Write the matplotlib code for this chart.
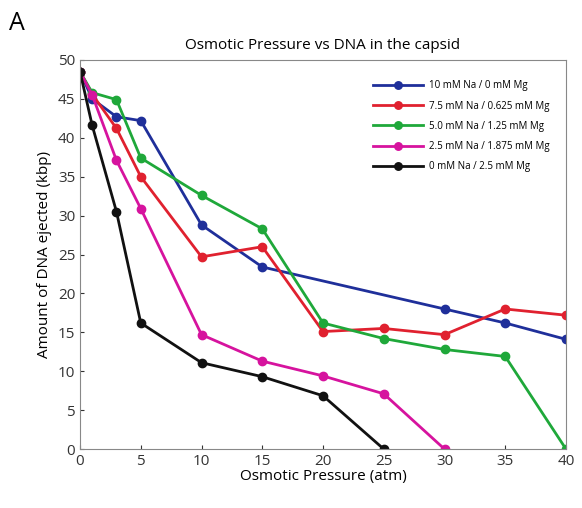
import matplotlib.pyplot as plt

plt.rcParams['font.family'] = ['Open Sans', 'DejaVu Sans']

# osmotic pressure (atm) and ejected DNA (kbp) for each buffer
x_blue = [0, 1, 3, 5, 10, 15, 30, 35, 40]
y_blue = [48.5, 45.0, 42.7, 42.2, 28.8, 23.4, 18.0, 16.2, 14.1]

x_red = [0, 1, 3, 5, 10, 15, 20, 25, 30, 35, 40]
y_red = [48.5, 45.6, 41.2, 35.0, 24.7, 26.0, 15.1, 15.5, 14.7, 18.0, 17.2]

x_green = [0, 1, 3, 5, 10, 15, 20, 25, 30, 35, 40]
y_green = [48.5, 45.8, 44.9, 37.4, 32.6, 28.3, 16.2, 14.2, 12.8, 11.9, 0]

x_pink = [0, 1, 3, 5, 10, 15, 20, 25, 30]
y_pink = [48.5, 45.5, 37.1, 30.9, 14.7, 11.3, 9.4, 7.1, 0]

x_black = [0, 1, 3, 5, 10, 15, 20, 25]
y_black = [48.5, 41.6, 30.5, 16.2, 11.1, 9.3, 6.85, 0]

labels = ["10 mM Na / 0 mM Mg", "7.5 mM Na / 0.625 mM Mg",
          "5.0 mM Na / 1.25 mM Mg", "2.5 mM Na / 1.875 mM Mg",
          "0 mM Na / 2.5 mM Mg"]

fig = plt.figure(figsize=(5.82, 5.08), dpi=100)
ax = fig.add_axes([0.1375, 0.116, 0.835, 0.766])

series = [(x_blue, y_blue, '#1f2f9a'), (x_red, y_red, '#e0212f'),
          (x_green, y_green, '#1fa83a'), (x_pink, y_pink, '#d6139e'),
          (x_black, y_black, '#111111')]
for (xs, ys, c), lab in zip(series, labels):
    ax.plot(xs, ys, color=c, lw=2, marker='o', ms=6, label=lab)

ax.set_xlim(0, 40)
ax.set_ylim(0, 50)
ax.set_xticks(range(0, 41, 5))
ax.set_yticks(range(0, 51, 5))
ax.tick_params(direction='in', labelsize=11, colors='#333333', length=3)
for s in ax.spines.values():
    s.set_color('#888888')

ax.set_title("Osmotic Pressure vs DNA in the capsid", fontsize=11, pad=8)
ax.set_xlabel("Osmotic Pressure (atm)", fontsize=11, labelpad=0)
ax.set_ylabel("Amount of DNA ejected (kbp)", fontsize=11, labelpad=4)

ax.legend(loc='upper right', bbox_to_anchor=(0.985, 0.97), fontsize=7,
          frameon=False, handlelength=5.2, handletextpad=0.6,
          markerscale=0.9, labelspacing=0.95)

fig.text(0.015, 0.94, "A", fontsize=18)

fig.savefig("out.png", dpi=100)
